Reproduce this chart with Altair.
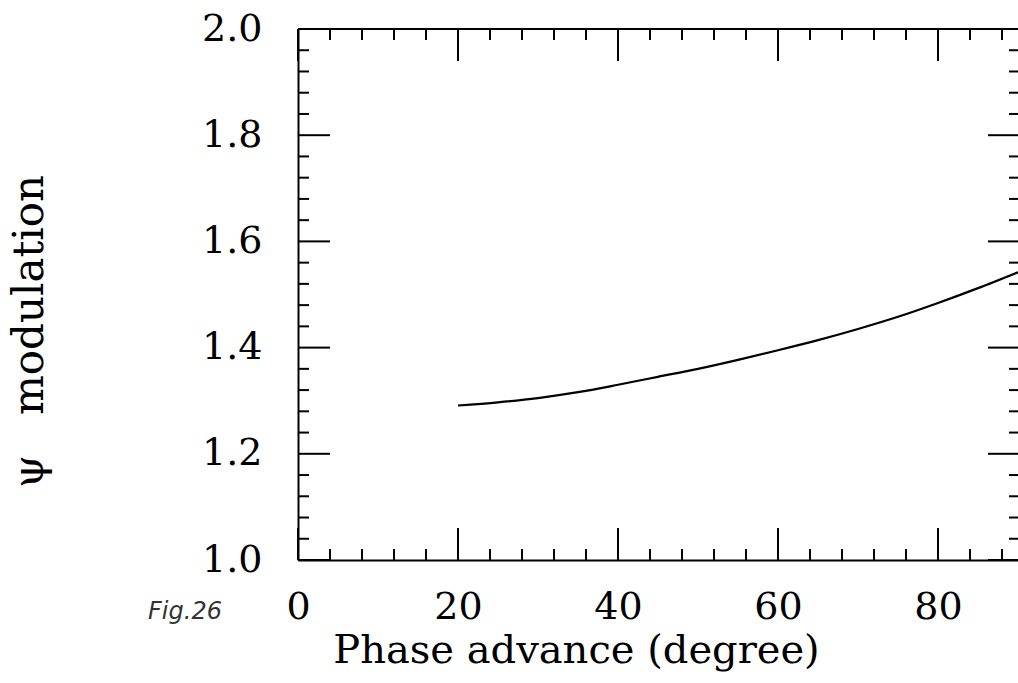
import altair as alt
import pandas as pd

# Curve values
phase = [20, 25, 30, 35, 40, 45, 50, 55, 60, 65, 70, 75, 80, 85, 90]
psi_mod = [1.291, 1.297, 1.305, 1.316, 1.330, 1.345, 1.360, 1.377, 1.395,
           1.414, 1.435, 1.458, 1.484, 1.512, 1.542]

x_major = [0, 20, 40, 60, 80]
x_minor = [4, 8, 12, 16, 24, 28, 32, 36, 44, 48, 52, 56, 64, 68, 72, 76, 84, 88]
y_major = [1.0, 1.2, 1.4, 1.6, 1.8, 2.0]
y_minor = [1.04, 1.08, 1.12, 1.16, 1.24, 1.28, 1.32, 1.36, 1.44, 1.48, 1.52, 1.56,
           1.64, 1.68, 1.72, 1.76, 1.84, 1.88, 1.92, 1.96]

W, H = 720, 531
FONT = "DejaVu Serif"

xs = alt.Scale(domain=[0, 90], nice=False, zero=False)
ys = alt.Scale(domain=[1.0, 2.0], nice=False, zero=False)

df = pd.DataFrame({"x": phase, "y": psi_mod})
dxm = pd.DataFrame({"x": x_major})
dxn = pd.DataFrame({"x": x_minor})
dym = pd.DataFrame({"y": y_major})
dyn = pd.DataFrame({"y": y_minor})

line = alt.Chart(df).mark_line(color="black", strokeWidth=2.2, interpolate="monotone").encode(
    x=alt.X("x:Q", scale=xs, axis=alt.Axis(
        values=x_major, title="Phase advance (degree)", ticks=False, grid=False,
        domainColor="black", domainWidth=2, labelFont=FONT, labelFontSize=38,
        labelColor="black", labelPadding=28, labelFlush=False, labelOverlap=False,
        titleFont=FONT, titleFontSize=40, titleFontWeight="normal", titleColor="black",
        titleX=278, titleY=102, titleBaseline="alphabetic", titleAlign="center")),
    y=alt.Y("y:Q", scale=ys, axis=alt.Axis(
        values=y_major, format=".1f", title="ψ\u00a0\u00a0\u00a0modulation", ticks=False, grid=False,
        domainColor="black", domainWidth=2, labelFont=FONT, labelFontSize=38,
        labelColor="black", labelPadding=36, labelOverlap=False,
        titleFont=FONT, titleFontSize=42, titleFontWeight="normal", titleColor="black",
        titleX=-256, titleY=302, titleBaseline="alphabetic", titleAlign="center", titleAngle=270)),
)

frame_top = alt.Chart(dxm).mark_rule(color="black", strokeWidth=2).encode(
    x=alt.value(0), x2=alt.value(W), y=alt.value(0))

def xticks(d, length):
    top = alt.Chart(d).mark_rule(color="black", strokeWidth=2).encode(
        x=alt.X("x:Q", scale=xs), y=alt.value(0), y2=alt.value(length))
    bot = alt.Chart(d).mark_rule(color="black", strokeWidth=2).encode(
        x=alt.X("x:Q", scale=xs), y=alt.value(H), y2=alt.value(H - length))
    return top + bot

def yticks(d, length):
    left = alt.Chart(d).mark_rule(color="black", strokeWidth=2).encode(
        y=alt.Y("y:Q", scale=ys), x=alt.value(0), x2=alt.value(length))
    right = alt.Chart(d).mark_rule(color="black", strokeWidth=2).encode(
        y=alt.Y("y:Q", scale=ys), x=alt.value(W + 2), x2=alt.value(W + 2 - length))
    return left + right

fig = alt.Chart(pd.DataFrame({"t": ["Fig.26"]})).mark_text(
    font="DejaVu Sans", fontSize=24, fontStyle="italic", color="#333333", align="center"
).encode(text="t:N", x=alt.value(-113), y=alt.value(52 + H))

chart = alt.layer(
    frame_top,
    xticks(dxm, 32), xticks(dxn, 11),
    yticks(dym, 32), yticks(dyn, 11),
    line, fig,
).properties(
    width=W, height=H,
    autosize=alt.AutoSizeParams(type="none"),
    padding={"left": 298, "top": 29, "right": 0, "bottom": 123},
    background="white",
).configure_view(stroke=None)

chart.save("out.html", embed_options={"renderer": "svg", "actions": False})
